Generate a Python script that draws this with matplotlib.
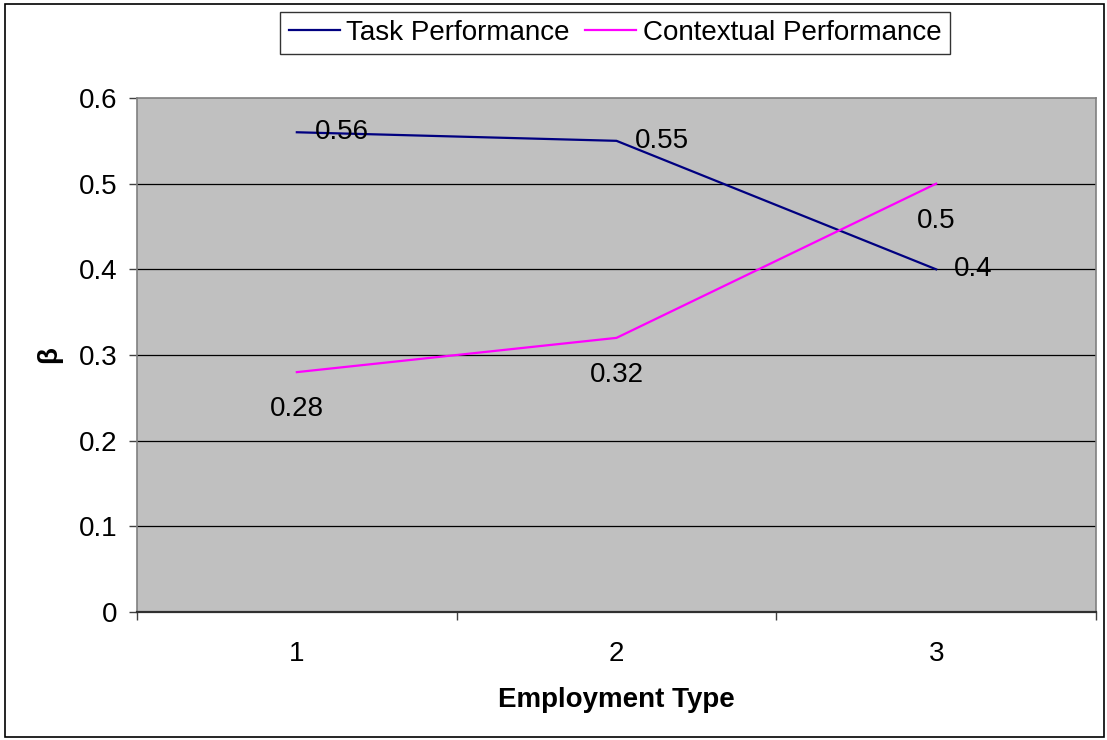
import matplotlib
matplotlib.use("Agg")
import matplotlib.pyplot as plt
from matplotlib.patches import Rectangle

categories = [1, 2, 3]
task = [0.56, 0.55, 0.40]
contextual = [0.28, 0.32, 0.50]
task_labels = ["0.56", "0.55", "0.4"]
ctx_labels = ["0.28", "0.32", "0.5"]
yticks = [0, 0.1, 0.2, 0.3, 0.4, 0.5, 0.6]
ytick_labels = ["0", "0.1", "0.2", "0.3", "0.4", "0.5", "0.6"]

plt.rcParams['font.family'] = ['Liberation Sans', 'DejaVu Sans']
FS = 20

W, H = 1107, 740
fig = plt.figure(figsize=(W / 100, H / 100), dpi=100)
fig.patch.set_facecolor('white')
fig.add_artist(Rectangle((5 / W, 3 / H), 1099 / W, 733 / H, transform=fig.transFigure,
                         fill=False, edgecolor='black', linewidth=1.2))

left, right, top, bottom = 137, 1096, 98, 612
ax = fig.add_axes([left / W, 1 - bottom / H, (right - left) / W, (bottom - top) / H])
ax.set_facecolor('#C0C0C0')
ax.set_xlim(0.5, 3.5)
ax.set_ylim(0, 0.6)

for y in yticks[1:-1]:
    ax.axhline(y, color='black', linewidth=0.9, zorder=1)

ax.plot(categories, task, color='#000080', linewidth=1.6, label='Task Performance', zorder=3)
ax.plot(categories, contextual, color='#FF00FF', linewidth=1.6, label='Contextual Performance', zorder=3)

for x, y, t in zip(categories, task, task_labels):
    ax.annotate(t, (x, y), xytext=(18, 0), textcoords='offset pixels',
                ha='left', va='center', fontsize=FS, zorder=4)
for x, y, t in zip(categories, contextual, ctx_labels):
    ax.annotate(t, (x, y), xytext=(0, -37), textcoords='offset pixels',
                ha='center', va='center', fontsize=FS, zorder=4)

ax.set_yticks(yticks)
ax.set_yticklabels(ytick_labels, fontsize=FS)
ax.set_xticks(categories)
ax.set_xticklabels([str(c) for c in categories], fontsize=FS)
ax.set_xticks([0.5, 1.5, 2.5, 3.5], minor=True)
ax.tick_params(axis='x', which='major', length=0, pad=21)
ax.tick_params(axis='x', which='minor', length=6, width=1, color='#404040', direction='out')
ax.tick_params(axis='y', length=6, width=1, color='#404040', direction='out', pad=8)

for s in ['left', 'right', 'top']:
    ax.spines[s].set_color('#808080')
    ax.spines[s].set_linewidth(1.2)
ax.spines['bottom'].set_color('#303030')
ax.spines['bottom'].set_linewidth(1.6)

ax.set_xlabel('Employment Type', fontsize=FS, fontweight='bold', labelpad=14)
ax.set_ylabel('β', fontsize=FS, fontweight='bold', labelpad=12)

leg = fig.legend(loc='center', bbox_to_anchor=(615 / W, 1 - 33 / H), ncol=2,
                 fontsize=FS, frameon=True, fancybox=False, edgecolor='black',
                 handlelength=1.85, handletextpad=0.22, columnspacing=0.55,
                 borderpad=0.3, borderaxespad=0)
leg.get_frame().set_linewidth(1.0)

fig.savefig('out.png', dpi=100, facecolor='white')
